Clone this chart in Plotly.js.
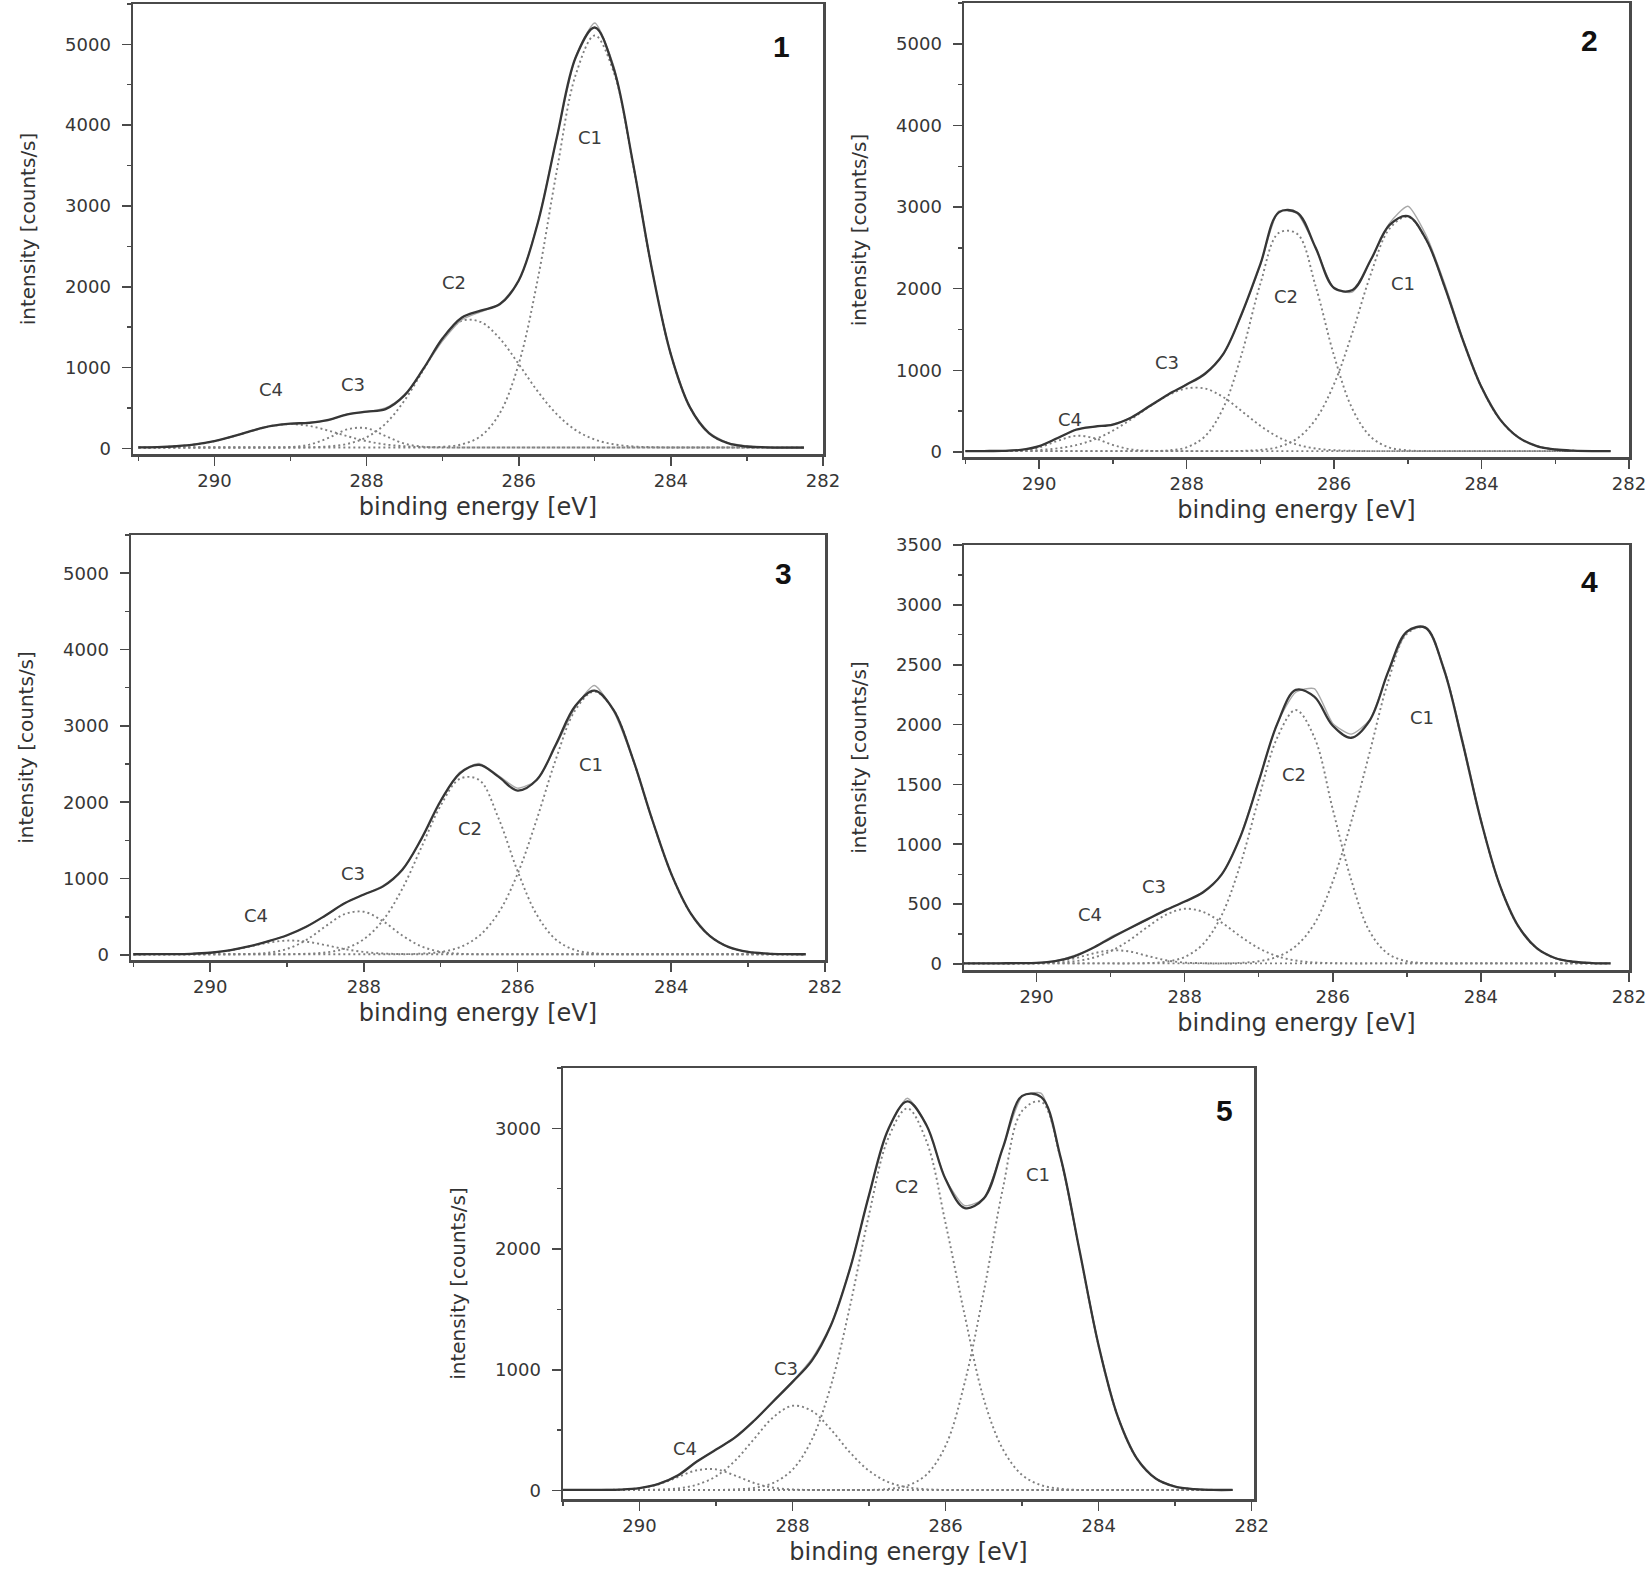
<!DOCTYPE html>
<html>
<head>
<meta charset="utf-8">
<script src="https://cdn.plot.ly/plotly-3.0.1.min.js"></script>
<style>html,body{margin:0;padding:0;background:#fff;}</style>
</head>
<body>
<div id="chart" style="width:1652px;height:1571px;"></div>
<script>
// ---------------- data ----------------
const energy = [291.00,290.75,290.50,290.25,290.00,289.75,289.50,289.25,289.00,288.75,288.50,288.25,288.00,287.75,287.50,287.25,287.00,286.75,286.50,286.25,286.00,285.75,285.50,285.25,285.00,284.75,284.50,284.25,284.00,283.75,283.50,283.25,283.00,282.75,282.50,282.25];

const componentNames = ["C1","C2","C3","C4"];
const panelNames = ["1","2","3","4","5"];
const xTicks = [290,288,286,284,282];
const yTicksTall = [0,1000,2000,3000,4000,5000];
const yTicks4 = [0,500,1000,1500,2000,2500,3000,3500];
const yTicks5 = [0,1000,2000,3000];

// panel 1
const p1_envelope = [12,15,26,48,89,150,219,277,306,316,353,421,455,486,658,989,1362,1617,1705,1783,2078,2786,3845,4841,5209,4696,3543,2223,1163,510,189,64,23,13,10,10];
const p1_measured = [14,16,24,50,92,147,222,280,300,325,345,425,450,500,650,985,1330,1590,1690,1790,2070,2790,3840,4850,5265,4730,3550,2230,1170,505,200,66,30,15,12,10];
const p1_C1 = [10,10,10,10,10,10,10,10,10,10,10,10,10,10,10,10,19,49,151,432,1045,2091,3432,4626,5110,4656,3529,2218,1163,510,189,64,23,13,10,10];
const p1_C2 = [10,10,10,10,10,10,10,10,10,13,24,55,137,306,594,975,1351,1578,1564,1361,1043,705,423,225,109,50,24,15,10,10,10,10,10,10,10,10];
const p1_C3 = [10,10,10,10,10,10,10,10,16,46,130,236,249,152,58,19,10,10,10,10,10,10,10,10,10,10,10,10,10,10,10,10,10,10,10,10];
const p1_C4 = [12,15,26,48,89,150,219,277,300,277,219,150,89,48,26,15,12,10,10,10,10,10,10,10,10,10,10,10,10,10,10,10,10,10,10,10];

// panel 2
const p2_envelope = [10,11,13,25,71,170,272,311,336,422,562,705,825,958,1205,1699,2300,2935,2930,2500,2008,1984,2357,2778,2890,2600,2023,1361,791,399,178,72,30,15,10,10];
const p2_measured = [12,10,14,26,72,165,278,305,340,420,570,700,830,965,1200,1690,2290,2950,2920,2500,2000,1960,2350,2800,3010,2650,2060,1380,800,405,180,70,32,15,12,10];
const p2_C1 = [10,10,10,10,10,10,10,10,10,10,10,10,10,10,10,13,25,62,165,399,833,1467,2184,2734,2881,2599,2023,1361,791,399,178,72,30,15,10,10];
const p2_C2 = [10,10,10,10,10,10,10,10,10,10,11,19,57,192,545,1209,2061,2684,2671,2028,1177,523,183,54,19,11,10,10,10,10,10,10,10,10,10,10];
const p2_C3 = [10,10,12,15,24,44,84,153,261,402,558,696,778,776,670,498,320,179,89,42,21,14,10,10,10,10,10,10,10,10,10,10,10,10,10,10];
const p2_C4 = [10,10,11,20,57,136,198,168,85,30,13,10,10,10,10,10,10,10,10,10,10,10,10,10,10,10,10,10,10,10,10,10,10,10,10,10];

// panel 3
const p3_envelope = [10,11,12,16,30,61,112,179,259,370,518,678,793,899,1117,1525,2020,2380,2490,2336,2153,2295,2760,3261,3463,3208,2569,1778,1063,550,251,103,40,19,12,10];
const p3_measured = [12,10,14,18,28,64,110,182,255,372,515,682,790,910,1110,1520,2010,2395,2510,2350,2185,2290,2740,3240,3530,3190,2560,1770,1060,555,255,100,42,20,14,10];
const p3_C1 = [10,10,10,10,10,10,10,10,10,10,10,10,10,10,10,19,40,103,251,550,1063,1778,2569,3206,3450,3206,2569,1778,1063,550,251,103,40,19,10,10];
const p3_C2 = [10,10,10,10,10,10,10,10,10,17,33,84,207,457,868,1413,1958,2309,2293,1796,1100,527,201,65,23,12,10,10,10,10,10,10,10,10,10,10];
const p3_C3 = [10,10,10,10,10,10,14,29,80,197,375,536,566,442,256,113,42,17,10,10,10,10,10,10,10,10,10,10,10,10,10,10,10,10,10,10];
const p3_C4 = [10,10,12,16,30,60,108,160,189,176,130,78,40,20,13,10,10,10,10,10,10,10,10,10,10,10,10,10,10,10,10,10,10,10,10,10];

// panel 4
const p4_envelope = [5,5,6,7,9,24,62,131,216,297,375,452,522,599,749,1060,1527,2006,2290,2233,1990,1890,2036,2444,2776,2810,2462,1856,1200,668,321,134,50,19,8,5];
const p4_measured = [4,6,8,8,12,26,70,128,225,295,370,455,520,605,745,1065,1530,2010,2270,2300,2010,1920,2040,2440,2770,2815,2480,1880,1205,670,325,135,48,20,10,6];
const p4_C1 = [5,5,5,5,5,5,5,5,5,5,5,5,5,5,5,10,23,60,149,335,690,1190,1772,2365,2758,2807,2462,1856,1200,668,321,134,50,19,8,5];
const p4_C2 = [5,5,5,5,5,5,5,5,5,5,8,19,59,167,408,828,1382,1891,2122,1895,1291,700,269,84,23,8,5,5,5,5,5,5,5,5,5,5];
const p4_C3 = [5,5,5,5,6,10,22,50,107,197,310,412,461,435,346,232,132,65,29,13,7,5,5,5,5,5,5,5,5,5,5,5,5,5,5,5];
const p4_C4 = [5,5,5,5,8,19,45,86,114,105,67,31,12,7,5,5,5,5,5,5,5,5,5,5,5,5,5,5,5,5,5,5,5,5,5,5];

// panel 5
const p5_envelope = [5,5,6,8,20,55,124,240,340,440,580,740,900,1074,1367,1837,2449,2991,3223,3026,2578,2340,2420,2843,3269,3259,2766,1988,1200,612,265,98,33,12,5,5];
const p5_measured = [3,6,8,10,22,58,130,245,338,445,578,745,905,1090,1370,1840,2450,2990,3250,3030,2580,2360,2420,2840,3265,3290,2760,1990,1205,615,268,100,35,14,8,5];
const p5_C1 = [5,5,5,5,5,5,5,5,5,5,5,5,5,5,5,5,5,13,41,132,371,895,1650,2508,3145,3220,2756,1984,1200,612,265,98,33,12,5,5];
const p5_C2 = [5,5,5,5,5,5,5,5,5,9,22,64,174,419,866,1526,2288,2918,3165,2893,2212,1450,756,340,129,44,15,5,5,5,5,5,5,5,5,5];
const p5_C3 = [5,5,5,5,5,8,18,48,118,248,430,608,702,660,506,316,163,70,27,11,5,5,5,5,5,5,5,5,5,5,5,5,5,5,5,5];
const p5_C4 = [5,5,5,8,19,52,111,168,175,124,62,23,9,5,5,5,5,5,5,5,5,5,5,5,5,5,5,5,5,5,5,5,5,5,5,5];

// ---------------- drawing ----------------
const FONT = "DejaVu Sans";
const AXIS_COLOR = "#4a4a4a";

const panels = [
  {env:p1_envelope, raw:p1_measured, comps:[p1_C1,p1_C2,p1_C3,p1_C4], xs:"x",  ys:"y",
   xdom:[133,823], ydom:[4,454], xr:[291.07,282], yr:[-70,5500], yt:yTicksTall, ymin:500,
   lbl:[[285.06,3850],[286.85,2050],[288.18,790],[289.26,730]], num:[0.94,0.905]},
  {env:p2_envelope, raw:p2_measured, comps:[p2_C1,p2_C2,p2_C3,p2_C4], xs:"x2", ys:"y2",
   xdom:[964,1629], ydom:[3,457], xr:[291.02,282], yr:[-62,5500], yt:yTicksTall, ymin:500,
   lbl:[[285.07,2060],[286.65,1900],[288.27,1090],[289.58,400]], num:[0.94,0.918]},
  {env:p3_envelope, raw:p3_measured, comps:[p3_C1,p3_C2,p3_C3,p3_C4], xs:"x3", ys:"y3",
   xdom:[131,825], ydom:[535,960], xr:[291.03,282], yr:[-65,5500], yt:yTicksTall, ymin:500,
   lbl:[[285.04,2490],[286.62,1660],[288.14,1070],[289.40,520]], num:[0.94,0.91]},
  {env:p4_envelope, raw:p4_measured, comps:[p4_C1,p4_C2,p4_C3,p4_C4], xs:"x4", ys:"y4",
   xdom:[964,1629], ydom:[545,970], xr:[290.98,282], yr:[-50,3500], yt:yTicks4, ymin:250,
   lbl:[[284.79,2060],[286.52,1580],[288.41,650],[289.28,410]], num:[0.94,0.915]},
  {env:p5_envelope, raw:p5_measured, comps:[p5_C1,p5_C2,p5_C3,p5_C4], xs:"x5", ys:"y5",
   xdom:[563,1254], ydom:[1068,1499], xr:[291.0,281.97], yr:[-70,3500], yt:yTicks5, ymin:500,
   lbl:[[284.79,2620],[286.50,2520],[288.08,1015],[289.40,350]], num:[0.958,0.902]}
];

const W = 1652, H = 1571;
const traces = [];
const layout = {
  width: W, height: H,
  margin: {l:0, r:0, t:0, b:0},
  paper_bgcolor: "#fff", plot_bgcolor: "#fff",
  showlegend: false, hovermode: false,
  annotations: []
};

panels.forEach((p, k) => {
  p.comps.forEach((c) => {
    traces.push({x: energy, y: c, xaxis: p.xs, yaxis: p.ys, type: "scatter", mode: "lines",
      line: {color: "#7f7f7f", width: 1.9, dash: "2px,3px", shape: "spline", smoothing: 1}});
  });
  traces.push({x: energy, y: p.raw, xaxis: p.xs, yaxis: p.ys, type: "scatter", mode: "lines",
    line: {color: "#a9a9a9", width: 1.4, shape: "spline", smoothing: 0.6}});
  traces.push({x: energy, y: p.env, xaxis: p.xs, yaxis: p.ys, type: "scatter", mode: "lines",
    line: {color: "#363636", width: 2.3, shape: "spline", smoothing: 1}});

  const sfx = k === 0 ? "" : String(k + 1);
  layout["xaxis" + sfx] = {
    domain: [p.xdom[0] / W, p.xdom[1] / W],
    anchor: "y" + sfx,
    range: p.xr,
    tickmode: "array", tickvals: xTicks, ticktext: xTicks.map(String),
    showline: true, mirror: true, linecolor: AXIS_COLOR, linewidth: 2.5,
    ticks: "outside", ticklen: 9, tickwidth: 1.6, tickcolor: AXIS_COLOR,
    minor: {ticks: "outside", ticklen: 4, tickwidth: 1.4, tickcolor: AXIS_COLOR, dtick: 1, tick0: 0},
    showgrid: false, zeroline: false,
    tickfont: {family: FONT, size: 18, color: "#363636"},
    title: {text: "binding energy [eV]", font: {family: FONT, size: 24, color: "#333"}, standoff: 8}
  };
  layout["yaxis" + sfx] = {
    domain: [1 - p.ydom[1] / H, 1 - p.ydom[0] / H],
    anchor: "x" + sfx,
    range: p.yr,
    tickmode: "array", tickvals: p.yt, ticktext: p.yt.map(String),
    showline: true, mirror: true, linecolor: AXIS_COLOR, linewidth: 2.5,
    ticks: "outside", ticklen: 9, tickwidth: 1.6, tickcolor: AXIS_COLOR,
    minor: {ticks: "outside", ticklen: 4, tickwidth: 1.4, tickcolor: AXIS_COLOR, dtick: p.ymin, tick0: 0},
    ticklabelstandoff: 7,
    showgrid: false, zeroline: false,
    tickfont: {family: FONT, size: 18, color: "#363636"},
    title: {text: "intensity [counts/s]", font: {family: FONT, size: 20, color: "#333"}, standoff: 24}
  };

  p.lbl.forEach((pos, j) => {
    layout.annotations.push({xref: p.xs, yref: p.ys, x: pos[0], y: pos[1], text: componentNames[j],
      xanchor: "center", yanchor: "middle", showarrow: false,
      font: {family: FONT, size: 18, color: "#3c3c3c"}});
  });
  layout.annotations.push({xref: p.xs + " domain", yref: p.ys + " domain", x: p.num[0], y: p.num[1],
    text: "<b>" + panelNames[k] + "</b>", xanchor: "center", yanchor: "middle", showarrow: false,
    font: {family: "Liberation Sans", size: 30, color: "#111"}});
});

Plotly.newPlot("chart", traces, layout, {staticPlot: true, displayModeBar: false});
</script>
</body>
</html>
